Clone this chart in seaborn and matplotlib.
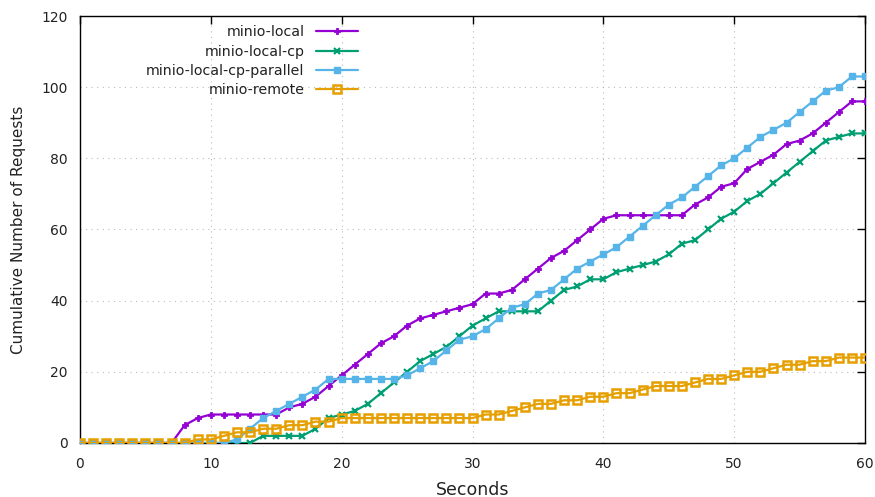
import numpy as np
import pandas as pd
import matplotlib
matplotlib.use("Agg")
import matplotlib.pyplot as plt
import seaborn as sns

seconds = list(range(0, 61))

minio_local = [0, 0, 0, 0, 0, 0, 0, 0, 5, 7, 8, 8, 8, 8, 8, 8, 10, 11, 13, 16,
               19, 22, 25, 28, 30, 33, 35, 36, 37, 38, 39, 42, 42, 43, 46, 49, 52, 54, 57, 60,
               63, 64, 64, 64, 64, 64, 64, 67, 69, 72, 73, 77, 79, 81, 84, 85, 87, 90, 93, 96,
               96]
minio_local_cp = [0, 0, 0, 0, 0, 0, 0, 0, 0, 0, 0, 0, 0, 0, 2, 2, 2, 2, 4, 7,
                  8, 9, 11, 14, 17, 20, 23, 25, 27, 30, 33, 35, 37, 37, 37, 37, 40, 43, 44, 46,
                  46, 48, 49, 50, 51, 53, 56, 57, 60, 63, 65, 68, 70, 73, 76, 79, 82, 85, 86, 87,
                  87]
minio_local_cp_parallel = [0, 0, 0, 0, 0, 0, 0, 0, 0, 0, 0, 0, 1, 4, 7, 9, 11, 13, 15, 18,
                           18, 18, 18, 18, 18, 19, 21, 23, 26, 29, 30, 32, 35, 38, 39, 42, 43, 46, 49, 51,
                           53, 55, 58, 61, 64, 67, 69, 72, 75, 78, 80, 83, 86, 88, 90, 93, 96, 99, 100, 103,
                           103]
minio_remote = [0, 0, 0, 0, 0, 0, 0, 0, 0, 1, 1, 2, 3, 3, 4, 4, 5, 5, 6, 6,
                7, 7, 7, 7, 7, 7, 7, 7, 7, 7, 7, 8, 8, 9, 10, 11, 11, 12, 12, 13,
                13, 14, 14, 15, 16, 16, 16, 17, 18, 18, 19, 20, 20, 21, 22, 22, 23, 23, 24, 24,
                24]

series_names = ["minio-local", "minio-local-cp", "minio-local-cp-parallel", "minio-remote"]
series_values = [minio_local, minio_local_cp, minio_local_cp_parallel, minio_remote]
colors = ["#9400D3", "#009E73", "#56B4E9", "#E69F00"]
markers = ["P", "x", "s", "s"]
marker_sizes = [5, 5, 4.6, 5.5]
edge_widths = [0.6, 1.6, 1.0, 1.8]
marker_faces = ["#9400D3", "#009E73", "#56B4E9", "none"]

xticks = [0, 10, 20, 30, 40, 50, 60]
yticks = [0, 20, 40, 60, 80, 100, 120]

sns.set_style("white")
plt.rcParams["font.family"] = ["DejaVu Sans"]

fig = plt.figure(figsize=(8.75, 4.97), dpi=100)
ax = fig.add_axes([0.0914, 0.1087, 0.8972, 0.8591])

for name, vals, c, m, ms, ew, mf in zip(series_names, series_values, colors, markers,
                                        marker_sizes, edge_widths, marker_faces):
    df = pd.DataFrame({"Seconds": seconds, "Requests": vals})
    sns.lineplot(data=df, x="Seconds", y="Requests", ax=ax, color=c, linewidth=1.6,
                 marker=m, markersize=ms, markeredgewidth=ew, markerfacecolor=mf,
                 markeredgecolor=c, label=name, zorder=3)

ax.set_xlim(0, 60)
ax.set_ylim(0, 120)
ax.set_xticks(xticks)
ax.set_yticks(yticks)
ax.tick_params(axis="both", direction="in", length=6, width=1, labelsize=10,
               top=True, right=True, colors="black", labelcolor="#222222")
ax.tick_params(axis="x", pad=10)
ax.tick_params(axis="y", pad=9)
ax.grid(True, linestyle=(0, (1, 4)), color="#bbbbbb", linewidth=0.8)
for sp in ax.spines.values():
    sp.set_color("black")
    sp.set_linewidth(1.0)

ax.set_xlabel("Seconds", fontsize=12.5, color="#222222")
ax.set_ylabel("Cumulative Number of Requests", fontsize=11, color="#222222")
ax.xaxis.set_label_coords(0.5, -0.088)
ax.yaxis.set_label_coords(-0.069, 0.5)

leg = ax.legend(loc="upper right", bbox_to_anchor=(0.366, 1.0), frameon=False,
                markerfirst=False, fontsize=10.2, handlelength=3.0,
                labelspacing=0.38, handletextpad=0.8, borderaxespad=0.25)
for t in leg.get_texts():
    t.set_color("#222222")

fig.savefig("out.png", dpi=100)
